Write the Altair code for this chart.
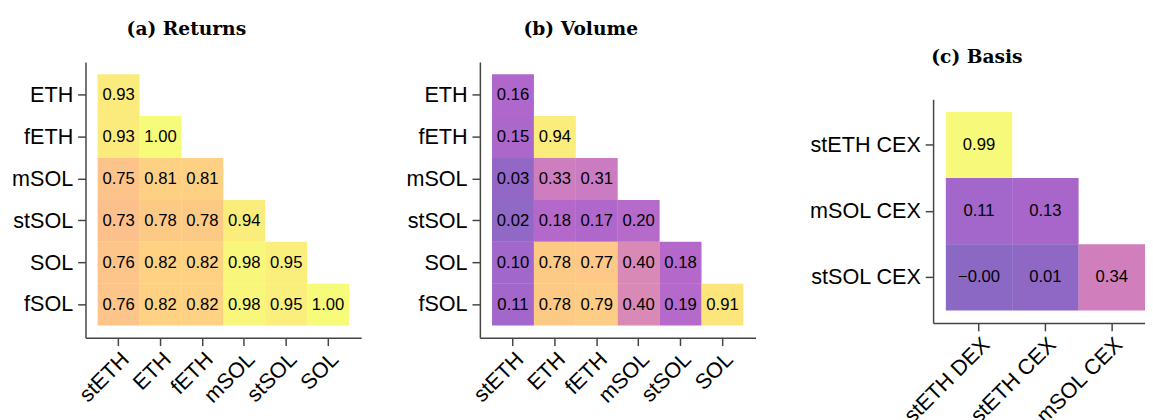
import altair as alt
import pandas as pd

# ---- data ----
ret_rows = ["ETH", "fETH", "mSOL", "stSOL", "SOL", "fSOL"]
ret_cols = ["stETH", "ETH", "fETH", "mSOL", "stSOL", "SOL"]
ret_vals = [
    [0.93],
    [0.93, 1.00],
    [0.75, 0.81, 0.81],
    [0.73, 0.78, 0.78, 0.94],
    [0.76, 0.82, 0.82, 0.98, 0.95],
    [0.76, 0.82, 0.82, 0.98, 0.95, 1.00],
]

vol_rows = ["ETH", "fETH", "mSOL", "stSOL", "SOL", "fSOL"]
vol_cols = ["stETH", "ETH", "fETH", "mSOL", "stSOL", "SOL"]
vol_vals = [
    [0.16],
    [0.15, 0.94],
    [0.03, 0.33, 0.31],
    [0.02, 0.18, 0.17, 0.20],
    [0.10, 0.78, 0.77, 0.40, 0.18],
    [0.11, 0.78, 0.79, 0.40, 0.19, 0.91],
]

bas_rows = ["stETH CEX", "mSOL CEX", "stSOL CEX"]
bas_cols = ["stETH DEX", "stETH CEX", "mSOL CEX"]
bas_vals = [
    [0.99],
    [0.11, 0.13],
    [-0.004, 0.01, 0.34],
]


def tidy(rows, cols, vals):
    recs = []
    for i, r in enumerate(rows):
        for j, v in enumerate(vals[i]):
            recs.append(dict(row=r, col=cols[j], value=v,
                             label=f"{v:.2f}".replace("-", "\u2212")))
    return pd.DataFrame(recs)


SANS = "Liberation Sans"
SERIF = "DejaVu Serif"
AX = "#444444"


def panel(df, rows, cols, title, w, h, xpad, ypad, xalign=0.5, offset=24, yrange=None):
    xs = alt.Scale(domain=cols, paddingInner=0, paddingOuter=xpad, align=xalign)
    if yrange:
        ys = alt.Scale(domain=rows, paddingInner=0, paddingOuter=ypad, range=yrange)
    else:
        ys = alt.Scale(domain=rows, paddingInner=0, paddingOuter=ypad)
    common = dict(title=None, labelFont=SANS, labelFontSize=22,
                  labelColor="black", domainColor=AX, tickColor=AX,
                  domainWidth=1.5, tickWidth=1.5, tickSize=8,
                  grid=False, labelLimit=400)
    xaxis = alt.Axis(labelAngle=-45, labelPadding=3, **common)
    yaxis = alt.Axis(labelPadding=5, **common)
    base = alt.Chart(df).encode(
        x=alt.X("col:N", sort=cols, scale=xs, axis=xaxis),
        y=alt.Y("row:N", sort=rows, scale=ys, axis=yaxis),
    )
    rect = base.mark_rect(opacity=0.6).encode(
        color=alt.Color("value:Q",
                        scale=alt.Scale(scheme="plasma", domain=[-0.1, 1.0]),
                        legend=None)
    )
    text = base.mark_text(font=SANS, fontSize=17, color="black").encode(text="label:N")
    t = alt.TitleParams(text=title, font=SERIF,
                        fontWeight="bold", fontSize=19, color="black",
                        anchor="middle", frame="bounds", offset=offset)
    return (rect + text).properties(width=w, height=h, title=t)


pa = panel(tidy(ret_rows, ret_cols, ret_vals), ret_rows, ret_cols,
           "(a) Returns", 281, 281, 0.29, 0.29)
pb = panel(tidy(vol_rows, vol_cols, vol_vals), vol_rows, vol_cols,
           "(b) Volume", 281, 281, 0.29, 0.29)
pc = panel(tidy(bas_rows, bas_cols, bas_vals), bas_rows, bas_cols,
           "(c) Basis", 216, 266, 0.096, 0.19, xalign=1, offset=-5, yrange=[38, 266])

chart = alt.hconcat(alt.hconcat(pa, pb, spacing=45), pc, spacing=54).configure_view(
    stroke=None
).properties(
    background="white", padding={"left": 3, "top": 8, "right": 0, "bottom": 0}
)

chart.save("out.html", embed_options={"renderer": "svg", "actions": False})
